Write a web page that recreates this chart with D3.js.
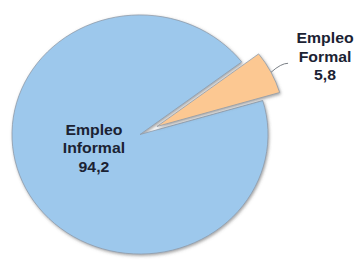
<!DOCTYPE html>
<html>
<head>
<meta charset="utf-8">
<script src="https://cdn.jsdelivr.net/npm/d3@7"></script>
<style>
  body { margin: 0; background: #fff; }
  svg { display: block; }
</style>
</head>
<body>
<script>
// chart data
const categories = ["Empleo Informal", "Empleo Formal"];
const labelLines = [["Empleo", "Informal"], ["Empleo", "Formal"]];
const values = [94.2, 5.8];
const valueLabels = ["94,2", "5,8"];
const colors = ["#9dc8ec", "#fcc892"];

const width = 359;
const height = 260;
const cx = 140;
const cy = 134.5;
const radius = 128;
const squash = 0.934;   // the picture is a bit flattened
const explode = 19;

const data = categories.map((c, i) => ({name: c, lines: labelLines[i], value: values[i], label: valueLabels[i], color: colors[i]}));

const svg = d3.select("body").append("svg")
    .attr("width", width)
    .attr("height", height);

// soft shadow under the slices
const defs = svg.append("defs");
defs.append("filter")
    .attr("id", "shadow")
    .attr("x", "-20%").attr("y", "-20%")
    .attr("width", "140%").attr("height", "140%")
  .append("feDropShadow")
    .attr("dx", 1).attr("dy", 1.5)
    .attr("stdDeviation", 1.5)
    .attr("flood-color", "#555")
    .attr("flood-opacity", 0.55);

const startDeg = 73.5;
const pie = d3.pie()
    .sort(null)
    .value(d => d.value)
    .startAngle(startDeg * Math.PI / 180)
    .endAngle((startDeg + 360) * Math.PI / 180);

const arcs = pie(data);

const arc = d3.arc().innerRadius(0).outerRadius(radius);

// offset of a slice along its middle angle
function offset(d, r) {
    const a = (d.startAngle + d.endAngle) / 2;
    return [Math.sin(a) * r, -Math.cos(a) * r];
}

const g = svg.append("g")
    .attr("transform", `translate(${cx},${cy}) scale(1,${squash})`);

g.selectAll("path.slice")
    .data(arcs)
    .enter().append("path")
    .attr("class", "slice")
    .attr("d", arc)
    .attr("transform", (d, i) => {
        const o = i === 1 ? offset(d, explode) : [0, 0];
        return `translate(${o[0]},${o[1]})`;
    })
    .attr("fill", d => d.data.color)
    .attr("stroke", "#8e9aa8")
    .attr("stroke-width", 0.8)
    .attr("filter", "url(#shadow)");

// label inside the big slice
const inside = arcs[0];
const ip = offset(inside, 50);
const insideLabel = svg.append("text")
    .attr("transform", `translate(${cx + ip[0] - 1.5},${cy + ip[1] * squash - 21}) scale(1.13,1)`)
    .attr("text-anchor", "middle")
    .attr("font-family", "Liberation Sans, Arial, sans-serif")
    .attr("font-weight", "bold")
    .attr("font-size", 14)
    .attr("fill", "#1b2233");
inside.data.lines.concat([inside.data.label]).forEach((t, i) => {
    insideLabel.append("tspan").attr("x", 0).attr("y", i * 18.5).text(t);
});

// label outside the small slice, with a leader line
const outside = arcs[1];
const edge = offset(outside, radius + explode);
const sx = cx + edge[0];
const sy = cy + edge[1] * squash;
const ex = sx + 17;
const ey = sy - 9;

svg.append("path")
    .attr("d", `M${sx},${sy} Q${sx + 10},${ey} ${ex},${ey}`)
    .attr("fill", "none")
    .attr("stroke", "#7a7f86")
    .attr("stroke-width", 1);

const outsideLabel = svg.append("text")
    .attr("transform", `translate(${ex + 37},${ey - 20}) scale(1.13,1)`)
    .attr("text-anchor", "middle")
    .attr("font-family", "Liberation Sans, Arial, sans-serif")
    .attr("font-weight", "bold")
    .attr("font-size", 14)
    .attr("fill", "#1b2233");
outside.data.lines.concat([outside.data.label]).forEach((t, i) => {
    outsideLabel.append("tspan").attr("x", 0).attr("y", i * 18.5).text(t);
});
</script>
</body>
</html>
